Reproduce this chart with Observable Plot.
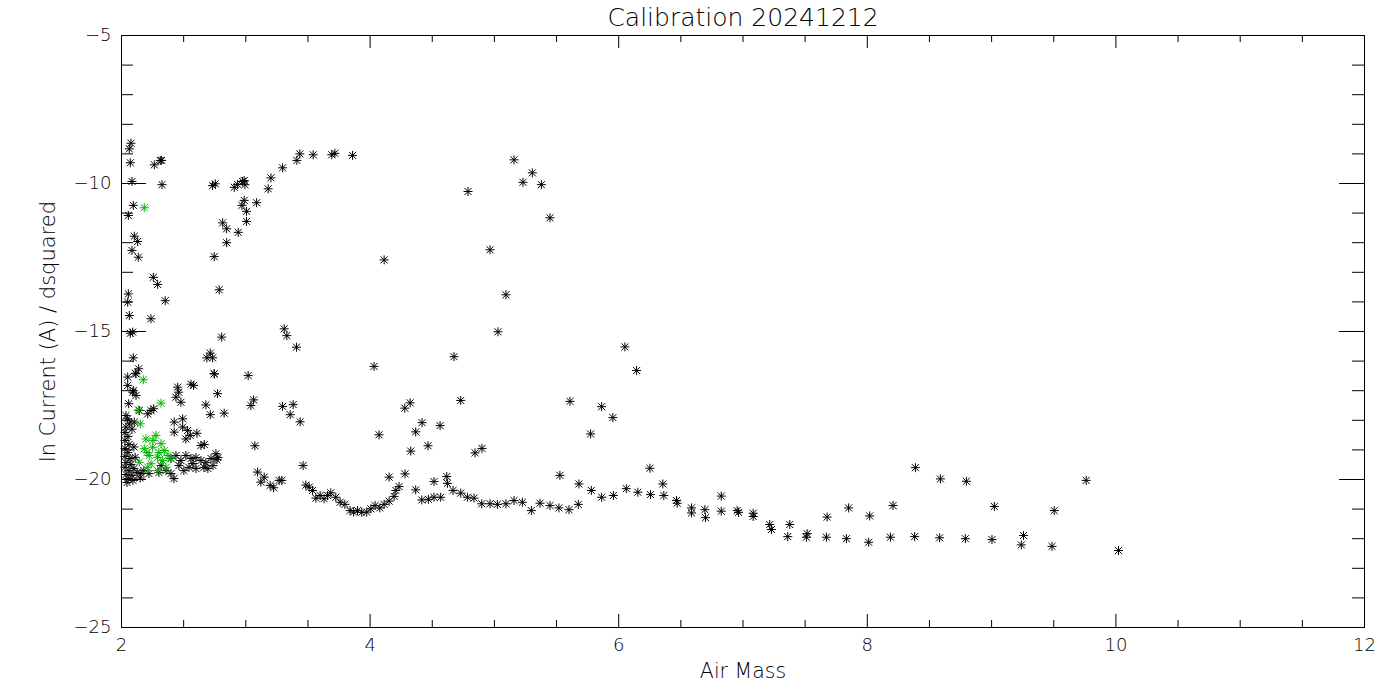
<!DOCTYPE html>
<html>
<head>
<meta charset="utf-8">
<script src="https://cdn.jsdelivr.net/npm/d3@7"></script>
<script src="https://cdn.jsdelivr.net/npm/@observablehq/plot@0.6"></script>
<style>
  html, body { margin: 0; padding: 0; background: #fff; }
  svg { display: block; }
</style>
</head>
<body>
<div id="chart"></div>
<script>
// ---- Data (air mass, ln current / dsquared) ----
const titleText = "Calibration 20241212";
const xLabel = "Air Mass";
const yLabel = "ln Current (A) / dsquared";
const xMajorTicks = [2, 4, 6, 8, 10, 12];
const xMinorTicks = [2.5, 3, 3.5, 4.5, 5, 5.5, 6.5, 7, 7.5, 8.5, 9, 9.5, 10.5, 11, 11.5];
const yMajorTicks = [-5, -10, -15, -20, -25];
const yMinorTicks = [-6, -7, -8, -9, -11, -12, -13, -14, -16, -17, -18, -19, -21, -22, -23, -24];

const leftColumn = [
  [2.076,-8.64],[2.063,-8.83],[2.071,-9.30],[2.264,-9.37],[2.312,-9.22],[2.323,-9.22],
  [2.084,-9.93],[2.326,-10.04],[2.095,-10.74],[2.055,-11.08],[2.103,-11.78],[2.130,-11.96],
  [2.084,-12.26],[2.135,-12.49],[2.256,-13.17],[2.291,-13.41],[2.055,-13.73],[2.050,-14.01],
  [2.352,-13.96],[2.063,-14.46],[2.237,-14.57],[2.090,-15.02],[2.071,-15.06],[2.095,-15.89],
  [2.138,-16.26],[2.111,-16.41],[2.050,-16.54],[2.050,-16.82],[2.095,-16.99],[2.117,-17.16],
  [2.058,-17.44],[2.117,-16.43],[2.090,-17.05]
];

const upperArc = [
  [2.733,-10.07],[2.754,-10.01],[2.907,-10.13],[2.934,-10.03],[2.974,-9.93],[2.993,-10.04],
  [2.987,-9.90],[3.180,-10.18],[3.202,-9.81],[3.296,-9.47],[3.411,-9.22],[3.435,-9.00],
  [3.542,-9.03],[3.692,-9.03],[3.716,-8.98],[3.859,-9.05],[2.987,-10.57],[2.969,-10.74],
  [3.087,-10.65],[3.006,-10.94],[2.814,-11.33],[2.846,-11.53],[3.006,-11.28],[2.939,-11.65],
  [2.846,-12.00],[2.746,-12.47],[2.786,-13.59],[2.806,-15.19],[2.714,-15.73],[2.687,-15.89],
  [2.733,-15.89],[2.746,-16.43],[3.309,-14.91],[3.330,-15.14],[3.408,-15.53],[4.113,-12.58]
];

const midScatter = [
  [5.158,-9.20],[5.305,-9.64],[5.230,-9.96],[5.378,-10.04],[4.788,-10.27],[5.447,-11.16],
  [4.965,-12.24],[5.093,-13.76],[5.029,-15.01],[4.675,-15.85],[6.050,-15.52],[6.144,-16.32],
  [4.032,-16.18],[5.608,-17.36],[5.863,-17.54],[5.953,-17.91],[5.774,-18.46],[4.729,-17.33],
  [4.322,-17.41],[4.279,-17.59],[4.418,-18.08],[4.367,-18.39],[4.563,-18.18],[4.072,-18.49],
  [4.327,-19.04],[4.466,-18.86],[4.844,-19.10],[4.900,-18.95],[6.251,-19.62],[3.381,-17.47],
  [3.296,-17.53],[3.357,-17.81],[3.437,-18.05],[3.461,-19.53],[3.073,-18.86]
];

const lowerArc = [
  [3.095,-19.75],[3.148,-19.92],[3.121,-20.09],[3.268,-20.03],[3.196,-20.20],[3.224,-20.28],
  [3.290,-20.03],[3.483,-20.19],[3.510,-20.26],[3.537,-20.37],[3.564,-20.63],[3.598,-20.54],
  [3.630,-20.65],[3.658,-20.54],[3.684,-20.45],[3.724,-20.60],[3.759,-20.77],[3.797,-20.84],
  [3.839,-21.05],[3.867,-21.10],[3.899,-21.05],[3.933,-21.11],[3.973,-21.10],[4.006,-20.99],
  [4.040,-20.88],[4.078,-20.96],[4.113,-20.84],[4.153,-20.73],[4.193,-20.57],[4.207,-20.37],
  [4.233,-20.24],[4.153,-19.92],[4.281,-19.81],[4.367,-20.35],[4.416,-20.69],[4.469,-20.67],
  [4.514,-20.60],[4.514,-20.07],[4.568,-20.60],[4.617,-19.90],[4.622,-20.13],[4.667,-20.37],
  [4.729,-20.46],[4.783,-20.60],[4.836,-20.63],[4.898,-20.82],[4.965,-20.82],[5.024,-20.84],
  [5.093,-20.82],[5.158,-20.71],[5.225,-20.77],[5.297,-21.05],[5.367,-20.80],[5.447,-20.88],
  [5.519,-20.96],[5.600,-21.02],[5.675,-20.84],[5.527,-19.86],[5.680,-20.15],[5.780,-20.37],
  [5.863,-20.60],[5.957,-20.54],[6.061,-20.31],[6.154,-20.43],[6.256,-20.51],[6.355,-20.15],
  [6.363,-20.54],[6.465,-20.71],[6.471,-20.80],[6.586,-20.96],[6.586,-21.13],[6.693,-21.02],
  [6.699,-21.29],[6.825,-20.56],[6.825,-21.07],[6.953,-21.05],[6.964,-21.11],[7.082,-21.14],
  [7.082,-21.25],[7.215,-21.52],[7.229,-21.69],[7.376,-21.52],[7.360,-21.93],[7.516,-21.83],
  [7.510,-21.95],[7.677,-21.27],[7.671,-21.95],[7.850,-20.96],[7.832,-22.00],[8.019,-21.23],
  [8.011,-22.12],[8.207,-20.88],[8.186,-21.95],[8.387,-19.60],[8.381,-21.93],[8.588,-19.98],
  [8.582,-21.97],[8.797,-20.06],[8.789,-22.00],[9.022,-20.91],[9.003,-22.03],[9.257,-21.89],
  [9.239,-22.21],[9.504,-21.05],[9.486,-22.26],[9.761,-20.03],[10.021,-22.40]
];

const clusterBlack = [
  [2.143,-17.67],[2.237,-17.67],[2.259,-17.61],[2.211,-17.78],[2.036,-17.84],[2.050,-17.95],
  [2.063,-18.12],[2.103,-18.06],[2.036,-18.23],[2.028,-18.41],[2.052,-18.55],[2.028,-18.68],
  [2.060,-18.82],[2.028,-18.95],[2.052,-19.09],[2.028,-19.22],[2.068,-19.29],[2.036,-19.43],
  [2.076,-19.49],[2.028,-19.59],[2.060,-19.70],[2.100,-19.63],[2.036,-19.83],[2.084,-19.86],
  [2.125,-19.76],[2.052,-19.97],[2.092,-20.03],[2.044,-20.10],[2.157,-19.80],[2.221,-19.80],
  [2.301,-19.76],[2.452,-16.88],[2.460,-17.05],[2.438,-17.22],[2.478,-17.39],[2.559,-16.78],
  [2.580,-16.82],[2.773,-17.10],[2.746,-16.43],[3.019,-16.49],[2.679,-17.48],[2.714,-17.81],
  [2.826,-17.76],[3.063,-17.31],[3.041,-17.50],[2.424,-18.06],[2.492,-17.95],[2.424,-18.40],
  [2.492,-18.23],[2.532,-18.34],[2.553,-18.51],[2.607,-18.44],[2.518,-18.63],[2.639,-18.85],
  [2.666,-18.82],[2.760,-19.13],[2.768,-19.33],[2.398,-19.29],[2.438,-19.19],[2.478,-19.36],
  [2.518,-19.19],[2.559,-19.29],[2.599,-19.26],[2.639,-19.36],[2.543,-19.59],[2.599,-19.63],
  [2.663,-19.59],[2.679,-19.43],[2.695,-19.63],[2.776,-19.26],[2.422,-19.97],[2.398,-19.80],
  [2.462,-19.53],[2.502,-19.70],[2.575,-19.46],[2.720,-19.29],[2.736,-19.53],[2.358,-19.70],
  [2.318,-19.53],[2.084,-18.30],[2.100,-18.90],[2.110,-19.25],[2.150,-19.95],[2.180,-19.70]
];

const greenPoints = [
  [2.183,-10.82],[2.175,-16.63],[2.318,-17.42],[2.135,-17.65],[2.151,-18.12],[2.197,-18.63],
  [2.277,-18.51],[2.183,-18.96],[2.251,-18.91],[2.318,-18.79],[2.344,-19.02],[2.223,-19.19],
  [2.291,-19.25],[2.143,-19.42],[2.237,-19.47],[2.331,-19.36],[2.358,-19.59],[2.398,-19.30],
  [2.211,-19.59],[2.291,-19.70],[2.253,-18.68],[2.301,-19.09],[2.205,-19.09],[2.374,-19.19]
];

const blackPoints = [...leftColumn, ...upperArc, ...midScatter, ...lowerArc, ...clusterBlack];

// IDL-style 8-armed asterisk symbol
const idlAsterisk = {
  draw(ctx, size) {
    const r = Math.sqrt(size / Math.PI);
    const d = r * 0.78;
    ctx.moveTo(-r, 0); ctx.lineTo(r, 0);
    ctx.moveTo(0, -r); ctx.lineTo(0, r);
    ctx.moveTo(-d, -d); ctx.lineTo(d, d);
    ctx.moveTo(-d, d); ctx.lineTo(d, -d);
  }
};

const W = 1400, H = 700;
const mL = 121, mR = 36, mT = 35, mB = 73;
const fw = W - mL - mR, fh = H - mT - mB;
const font = "DejaVu Sans, sans-serif";

const chart = Plot.plot({
  width: W,
  height: H,
  marginLeft: mL, marginRight: mR, marginTop: mT, marginBottom: mB,
  style: { fontFamily: font, color: "#000", background: "#fff", overflow: "visible" },
  x: { domain: [2, 12], axis: null },
  y: { domain: [-25, -5], axis: null },
  marks: [
    Plot.frame({ stroke: "#000", strokeWidth: 1 }),
    // bottom / top ticks (inward)
    Plot.tickX(xMajorTicks, { x: d => d, insetTop: fh - 13, stroke: "#000" }),
    Plot.tickX(xMajorTicks, { x: d => d, insetBottom: fh - 13, stroke: "#000" }),
    Plot.tickX(xMinorTicks, { x: d => d, insetTop: fh - 7, stroke: "#000" }),
    Plot.tickX(xMinorTicks, { x: d => d, insetBottom: fh - 7, stroke: "#000" }),
    // left / right ticks (inward)
    Plot.tickY(yMajorTicks, { y: d => d, insetRight: fw - 25, stroke: "#000" }),
    Plot.tickY(yMajorTicks, { y: d => d, insetLeft: fw - 25, stroke: "#000" }),
    Plot.tickY(yMinorTicks, { y: d => d, insetRight: fw - 12, stroke: "#000" }),
    Plot.tickY(yMinorTicks, { y: d => d, insetLeft: fw - 12, stroke: "#000" }),
    // tick labels
    Plot.axisX(xMajorTicks, {
      tickSize: 0, tickPadding: 11, fontSize: 18, fontWeight: 300, fill: "#000",
      tickFormat: d => String(d), label: null
    }),
    Plot.axisY(yMajorTicks, {
      tickSize: 0, tickPadding: 10, fontSize: 18, fontWeight: 300, fill: "#000",
      label: null
    }),
    // axis titles
    Plot.text([xLabel], {
      frameAnchor: "bottom", lineAnchor: "middle", textAnchor: "middle",
      dy: 44, fontSize: 20.5, fontWeight: 300, fill: "#000"
    }),
    Plot.text([yLabel], {
      frameAnchor: "left", lineAnchor: "middle", textAnchor: "middle",
      rotate: -90, dx: -73, fontSize: 21, fontWeight: 300, fill: "#000"
    }),
    Plot.text([titleText], {
      frameAnchor: "top", lineAnchor: "middle", textAnchor: "middle",
      dy: -18, fontSize: 25, fontWeight: 300, fill: "#000"
    }),
    // data
    Plot.dot(blackPoints, {
      x: d => d[0], y: d => d[1], symbol: idlAsterisk, r: 4.5,
      stroke: "#000", fill: "none", strokeWidth: 1
    }),
    Plot.dot(greenPoints, {
      x: d => d[0], y: d => d[1], symbol: idlAsterisk, r: 4.5,
      stroke: "#00b000", fill: "none", strokeWidth: 1
    })
  ]
});

document.getElementById("chart").appendChild(chart);
</script>
</body>
</html>
